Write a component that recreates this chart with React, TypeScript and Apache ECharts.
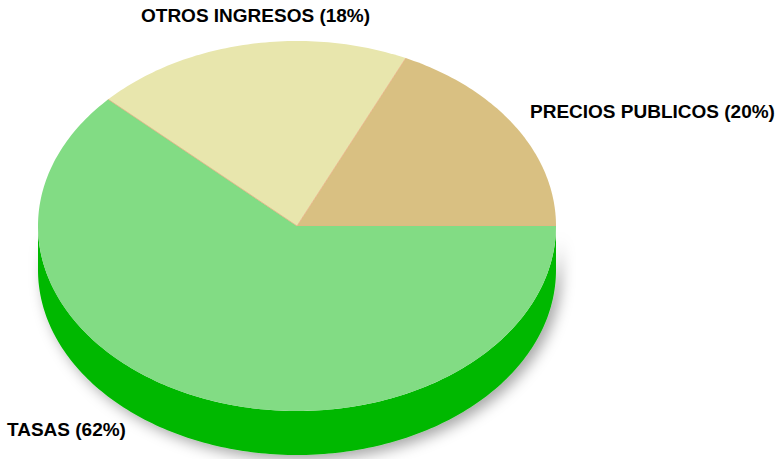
import React, { useEffect, useRef } from "react";
import * as echarts from "echarts";

const names = ["PRECIOS PUBLICOS", "OTROS INGRESOS", "TASAS"];
const values = [18.1, 19.9, 62];
const labelTexts = ["PRECIOS PUBLICOS (20%)", "OTROS INGRESOS (18%)", "TASAS (62%)"];
const topColors = ["#D9C082", "#E8E6AD", "#82DC84"];
const sideColors = ["#B9A165", "#C9C78C", "#00B800"];

export default function App() {
  const ref = useRef<HTMLDivElement>(null);
  useEffect(() => {
    const chart = echarts.init(ref.current!, null, { renderer: "svg" });
    const cx = 297, cy = 226, rx = 259, ry = 185, depth = 44;
    const total = values.reduce((a, b) => a + b, 0);
    const pt = (t: number, dy = 0) => [cx + rx * Math.cos(t), cy - ry * Math.sin(t) + dy];
    const arc = (a: number, b: number, dy = 0) => {
      const pts: number[][] = [];
      const n = Math.max(2, Math.ceil(Math.abs(b - a) / (Math.PI / 180)));
      for (let k = 0; k <= n; k++) pts.push(pt(a + ((b - a) * k) / n, dy));
      return pts;
    };
    const renderItem = (params: any, api: any) => {
      const i = params.dataIndex;
      let before = 0;
      for (let k = 0; k < i; k++) before += values[k];
      const v = api.value(0);
      const a0 = (before / total) * Math.PI * 2;
      const a1 = ((before + v) / total) * Math.PI * 2;
      const children: any[] = [];
      const s0 = Math.max(a0, Math.PI);
      const s1 = Math.min(a1, Math.PI * 2);
      if (s1 > s0) {
        const topArc = arc(s0, s1);
        const botArc = arc(s1, s0, depth);
        children.push({
          type: "polygon",
          shape: { points: topArc.concat(botArc) },
          style: {
            fill: sideColors[i],
            shadowColor: "rgba(0,0,0,0.35)",
            shadowBlur: 14,
            shadowOffsetX: 5,
            shadowOffsetY: 5,
          },
        });
      }
      children.push({
        type: "polygon",
        shape: { points: [[cx, cy]].concat(arc(a0, a1)) },
        style: { fill: topColors[i] },
      });
      children.push({
        type: "line",
        shape: { x1: cx, y1: cy, x2: pt(a0)[0], y2: pt(a0)[1] },
        style: { stroke: "#E8AE84", lineWidth: 0.8 },
      });
      return { type: "group", children };
    };
    const font = {
      fontFamily: "'Liberation Sans', Arial, sans-serif",
      fontWeight: "bold",
      fontSize: 19,
      fill: "#000000",
    };
    chart.setOption({
      animation: false,
      backgroundColor: "#ffffff",
      series: [
        {
          type: "custom",
          coordinateSystem: "none",
          renderItem,
          data: values.map((v, i) => ({ name: names[i], value: [v] })),
        },
      ],
      graphic: [
        { type: "text", left: 530, top: 102, style: { ...font, text: labelTexts[0] } },
        { type: "text", left: 141, top: 6, style: { ...font, text: labelTexts[1] } },
        { type: "text", left: 7, top: 420, style: { ...font, text: labelTexts[2] } },
      ],
    });
    return () => chart.dispose();
  }, []);
  return (
    <div
      ref={ref}
      style={{ position: "fixed", left: 0, top: 0, width: 776, height: 459 }}
    />
  );
}
